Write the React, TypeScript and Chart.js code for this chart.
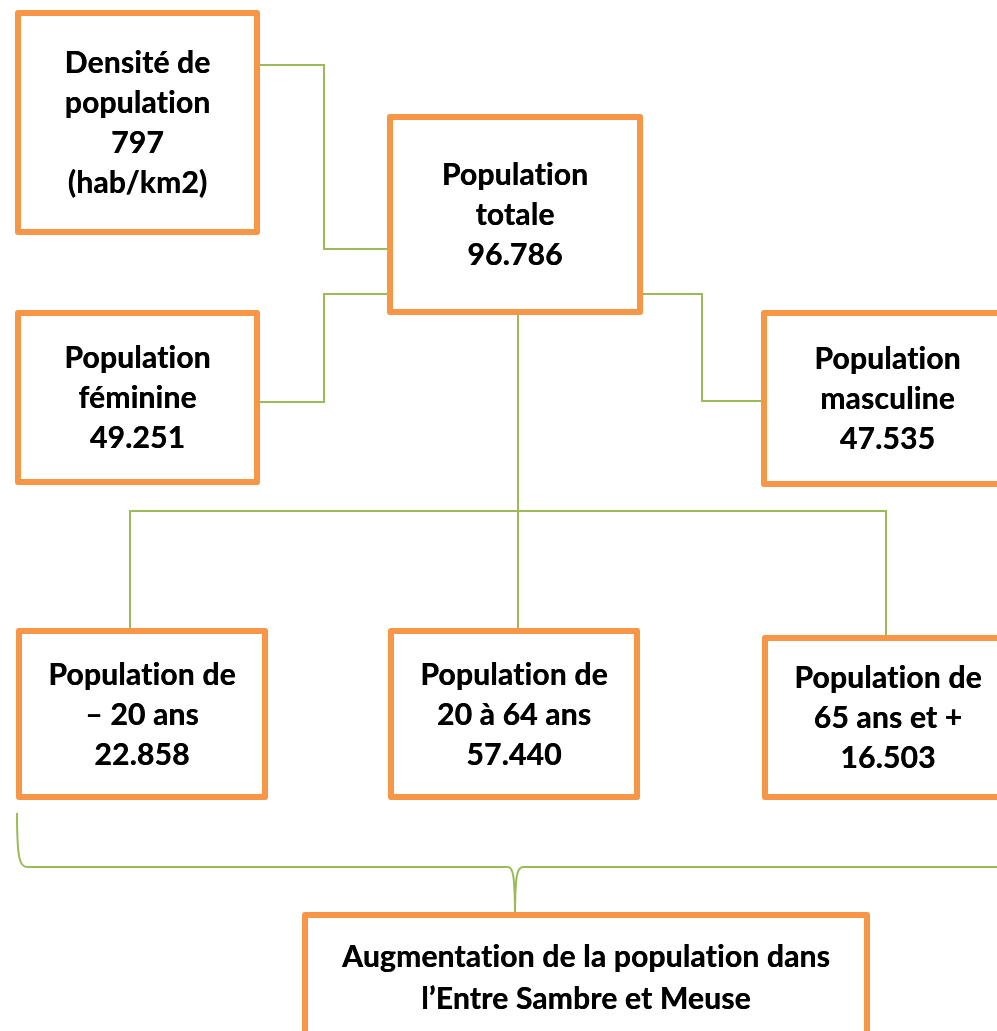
import React, { useEffect, useRef } from "react";
import { Chart, registerables } from "chart.js";

Chart.register(...registerables);

// ---- Data ----
const nodeTitles: string[][] = [
  ["Densité de", "population"],
  ["Population", "totale"],
  ["Population", "féminine"],
  ["Population", "masculine"],
  ["Population de", "– 20 ans"],
  ["Population de", "20 à 64 ans"],
  ["Population de", "65 ans et +"],
  ["Augmentation de la population dans", "l’Entre Sambre et Meuse"],
];
const nodeValues: (number | null)[] = [797, 96786, 49251, 47535, 22858, 57440, 16503, null];
const nodeUnits: string[] = ["(hab/km2)", "", "", "", "", "", "", ""];

// Node layout in diagram units (x: 0..997, y: 0..1031 top-down)
const boxLeft = [15, 387, 15, 761, 16, 388, 762, 302];
const boxTop = [10, 114, 310, 310, 628, 628, 635, 912];
const boxRight = [260, 643, 260, 1014, 268, 640, 1014, 870];
const boxBottom = [235, 315, 485, 487, 800, 800, 800, 1042];

// Connector polylines (diagram units)
const linkDensite = [{ x: 260, y: 65 }, { x: 324, y: 65 }, { x: 324, y: 249 }, { x: 387, y: 249 }];
const linkFeminine = [{ x: 387, y: 294 }, { x: 324, y: 294 }, { x: 324, y: 402 }, { x: 260, y: 402 }];
const linkMasculine = [{ x: 643, y: 294 }, { x: 702, y: 294 }, { x: 702, y: 401 }, { x: 761, y: 401 }];
const linkTrunk = [{ x: 518, y: 315 }, { x: 518, y: 628 }];
const linkAges = [{ x: 130, y: 628 }, { x: 130, y: 511 }, { x: 886, y: 511 }, { x: 886, y: 635 }];

const ORANGE = "#F79646";
const GREEN = "#9BBB59";
const FONT = "Lato, 'Open Sans', sans-serif";

function fmt(n: number): string {
  if (n < 1000) return String(n);
  const th = Math.floor(n / 1000);
  const r = String(n % 1000).padStart(3, "0");
  return th + "." + r;
}

const diagramPlugin = {
  id: "diagram",
  beforeDatasetsDraw(chart: any) {
    const ctx = chart.ctx;
    const xs = chart.scales.x;
    const ys = chart.scales.y;
    const X = (v: number) => xs.getPixelForValue(v);
    const Y = (v: number) => ys.getPixelForValue(v);
    ctx.save();
    ctx.strokeStyle = GREEN;
    ctx.lineWidth = 2;
    ctx.beginPath();
    ctx.moveTo(X(17), Y(813));
    ctx.bezierCurveTo(X(17), Y(860), X(20), Y(867), X(27), Y(867));
    ctx.lineTo(X(508), Y(867));
    ctx.bezierCurveTo(X(513), Y(867), X(515), Y(875), X(515), Y(920));
    ctx.moveTo(X(515), Y(920));
    ctx.bezierCurveTo(X(515), Y(875), X(517), Y(867), X(523), Y(867));
    ctx.lineTo(X(1000), Y(867));
    ctx.stroke();
    ctx.restore();
  },
  afterDatasetsDraw(chart: any) {
    const ctx = chart.ctx;
    const xs = chart.scales.x;
    const ys = chart.scales.y;
    const X = (v: number) => xs.getPixelForValue(v);
    const Y = (v: number) => ys.getPixelForValue(v);
    ctx.save();
    for (let i = 0; i < nodeTitles.length; i++) {
      const l = X(boxLeft[i]);
      const r = X(boxRight[i]);
      const t = Y(boxTop[i]);
      const b = Y(boxBottom[i]);
      const bw = 6;
      ctx.fillStyle = "#ffffff";
      ctx.fillRect(l, t, r - l, b - t);
      ctx.strokeStyle = ORANGE;
      ctx.lineWidth = bw;
      ctx.lineJoin = "round";
      ctx.strokeRect(l + bw / 2, t + bw / 2, r - l - bw, b - t - bw);
      const lines = [...nodeTitles[i]];
      const v = nodeValues[i];
      if (v !== null) lines.push(fmt(v));
      if (nodeUnits[i]) lines.push(nodeUnits[i]);
      const lh = i === 7 ? 42 : 40;
      const cx = (l + r) / 2;
      const cy = (t + b) / 2 + 1;
      ctx.fillStyle = "#000000";
      ctx.font = `bold 30px ${FONT}`;
      try {
        (ctx as any).textRendering = "optimizeSpeed";
        (ctx as any).letterSpacing = "0.2px";
      } catch (e) {}
      ctx.textAlign = "center";
      ctx.textBaseline = "middle";
      const startY = cy - ((lines.length - 1) * lh) / 2;
      lines.forEach((s, k) => {
        ctx.fillText(s, cx, startY + k * lh);
        ctx.fillText(s, cx + 0.4, startY + k * lh);
      });
    }
    ctx.restore();
  },
};

export default function App() {
  const ref = useRef<HTMLCanvasElement | null>(null);
  useEffect(() => {
    document.body.style.margin = "0";
    if (!ref.current) return;
    const mk = (data: { x: number; y: number }[]) => ({
      data,
      showLine: true,
      borderColor: GREEN,
      borderWidth: 2,
      pointRadius: 0,
      fill: false,
      tension: 0,
    });
    const chart = new Chart(ref.current, {
      type: "scatter",
      data: {
        datasets: [mk(linkDensite), mk(linkFeminine), mk(linkMasculine), mk(linkTrunk), mk(linkAges)],
      },
      options: {
        animation: false,
        responsive: false,
        devicePixelRatio: 1,
        layout: { padding: 0 },
        plugins: { legend: { display: false }, tooltip: { enabled: false } },
        events: [],
        scales: {
          x: { type: "linear", min: 0, max: 997, display: false },
          y: { type: "linear", min: 0, max: 1031, reverse: true, display: false },
        },
      },
      plugins: [diagramPlugin],
    } as any);
    return () => chart.destroy();
  }, []);
  return (
    <canvas ref={ref} width={997} height={1031} style={{ display: "block", width: 997, height: 1031 }} />
  );
}
